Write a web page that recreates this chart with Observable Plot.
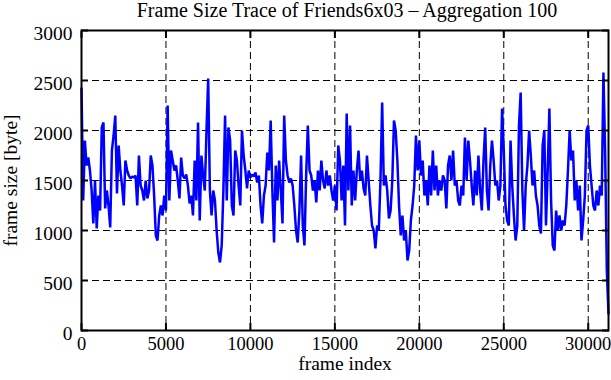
<!DOCTYPE html>
<html>
<head>
<meta charset="utf-8">
<script src="https://cdn.jsdelivr.net/npm/d3@7"></script>
<script src="https://cdn.jsdelivr.net/npm/@observablehq/plot@0.6"></script>
<style>
  html, body { margin: 0; padding: 0; background: #fff; }
  #wrap { width: 611px; height: 380px; position: relative; overflow: hidden; background: #fff; }
  #title { height: 24px; width: 611px; font-family: "Liberation Serif", serif; font-size: 20px; line-height: 20px; color: #000; white-space: nowrap; }
  #title span { position: absolute; left: 347px; top: 0; transform: translateX(-50%); }
</style>
</head>
<body>
<div id="wrap">
  <div id="title"><span>Frame Size Trace of Friends6x03 – Aggregation 100</span></div>
  <div id="chart"></div>
</div>
<script>
const titleText = "Frame Size Trace of Friends6x03 – Aggregation 100";
const xLabel = "frame index";
const yLabel = "frame size [byte]";
const xTicks = [0, 5000, 10000, 15000, 20000, 25000, 30000];
const yTicks = [0, 500, 1000, 1500, 2000, 2500, 3000];
const xGridTicks = [5000, 10000, 15000, 20000, 25000, 30000];
const yGridTicks = [500, 1000, 1500, 2000, 2500];
const aggregation = 100;

// frame size (byte), one value per 100-frame aggregate
const sizes = [
  2420,1300,1900,1650,1730,1600,1400,1070,1500,1020,
  1350,1200,2030,2080,1220,1400,1250,1030,1800,1950,
  2150,1370,1850,1600,1450,1250,1700,1600,1550,1520,
  1540,1530,1550,1250,1750,1450,1400,1300,1500,1320,
  1400,1750,1650,1350,950,900,1150,1250,1150,1350,
  1200,2250,1300,1800,1700,1600,1650,1500,1320,1730,
  1550,1520,1560,1450,1270,1350,1150,1700,1300,2080,
  1100,1750,1550,1400,2000,2520,1400,1150,1400,1300,
  1000,780,680,850,1400,2150,1300,2030,1900,1250,
  1150,1800,1700,1450,1250,2000,1750,1600,1420,1600,
  1530,1560,1540,1580,1480,1550,1250,1070,1350,1450,
  1780,1600,2100,1400,880,1650,1300,1700,1400,1070,
  2150,1700,1550,1480,1520,1450,1250,1000,880,1200,
  1750,1050,850,1550,2050,1600,1550,1400,1500,1280,
  1600,1400,1700,1500,1420,1600,1450,1550,1400,1300,
  1450,1200,1850,1700,1300,1650,1050,2170,1400,2050,
  1250,1600,1300,1600,1800,1500,1600,1420,1350,1750,
  1500,1250,1050,1000,820,1050,1000,1500,2280,1450,
  1550,1400,1120,1200,1500,2100,2000,1700,1250,950,
  1150,900,1000,700,800,1100,1250,1450,1950,1600,
  1900,1550,1700,1350,1500,1250,1650,1350,1800,1400,
  1650,1350,1500,1400,1550,1500,1220,1650,1750,1500,
  1800,1450,1500,1300,1250,1450,1350,1930,1500,1900,
  1700,1450,1250,1600,1350,1750,1400,1200,1700,2030,
  1400,1200,1650,1900,1700,1450,1500,1300,1450,2220,
  1800,1250,1100,1050,1900,1450,1150,900,1050,2050,
  2380,1400,1000,1450,1650,2000,1750,1450,1600,1350,
  1250,1050,970,1850,2000,1050,1600,2220,1300,850,
  800,1200,1000,1150,1000,1100,1050,1250,1600,2000,
  1700,1800,1300,1500,1200,1450,900,1100,1350,2000,
  2050,1650,1450,1250,1200,1400,1250,1450,1350,2580,
  1800,600,170
];
const frames = sizes.map((_, i) => i * aggregation);
const data = sizes.map((s, i) => ({frame: frames[i], size: s}));

const dash = "7,4";
const chart = Plot.plot({
  width: 611,
  height: 356,
  marginTop: 6,
  marginBottom: 50,
  marginLeft: 81,
  marginRight: 3,
  style: {fontFamily: "'Liberation Serif', serif", fontSize: "19.5px", color: "#000", background: "#fff"},
  x: {domain: [0, frames[frames.length - 1]], label: null},
  y: {domain: [0, 3000], label: null},
  marks: [
    Plot.gridX(xGridTicks, {stroke: "#000", strokeOpacity: 1, strokeWidth: 1, strokeDasharray: dash}),
    Plot.gridY(yGridTicks, {stroke: "#000", strokeOpacity: 1, strokeWidth: 1, strokeDasharray: dash}),
    Plot.line(data, {x: "frame", y: "size", stroke: "#0000ff", strokeWidth: 2.5, strokeLinejoin: "miter"}),
    Plot.frame({stroke: "#000", strokeWidth: 2}),
    Plot.axisX(xTicks, {anchor: "bottom", tickSize: -7, strokeWidth: 2, text: null, label: null}),
    Plot.axisX(xTicks, {anchor: "top", tickSize: -7, strokeWidth: 2, text: null, label: null}),
    Plot.axisY(yTicks, {anchor: "left", tickSize: -7, strokeWidth: 2, text: null, label: null}),
    Plot.axisY(yTicks, {anchor: "right", tickSize: -7, strokeWidth: 2, text: null, label: null}),
    Plot.axisX(xTicks, {anchor: "bottom", tickSize: 0, tickPadding: 6, tickFormat: d => String(d),
      fontSize: 18.5, label: null}),
    Plot.axisX({anchor: "bottom", tickSize: 0, ticks: [], text: null,
      label: xLabel, labelAnchor: "center", labelOffset: 39, labelArrow: "none"}),
    Plot.axisY(yTicks, {anchor: "left", tickSize: 0, tickPadding: 9, tickFormat: d => String(d), dy: 3,
      label: yLabel, labelAnchor: "center", labelOffset: 78, labelArrow: "none"})
  ]
});
document.getElementById("chart").appendChild(chart);
</script>
</body>
</html>
